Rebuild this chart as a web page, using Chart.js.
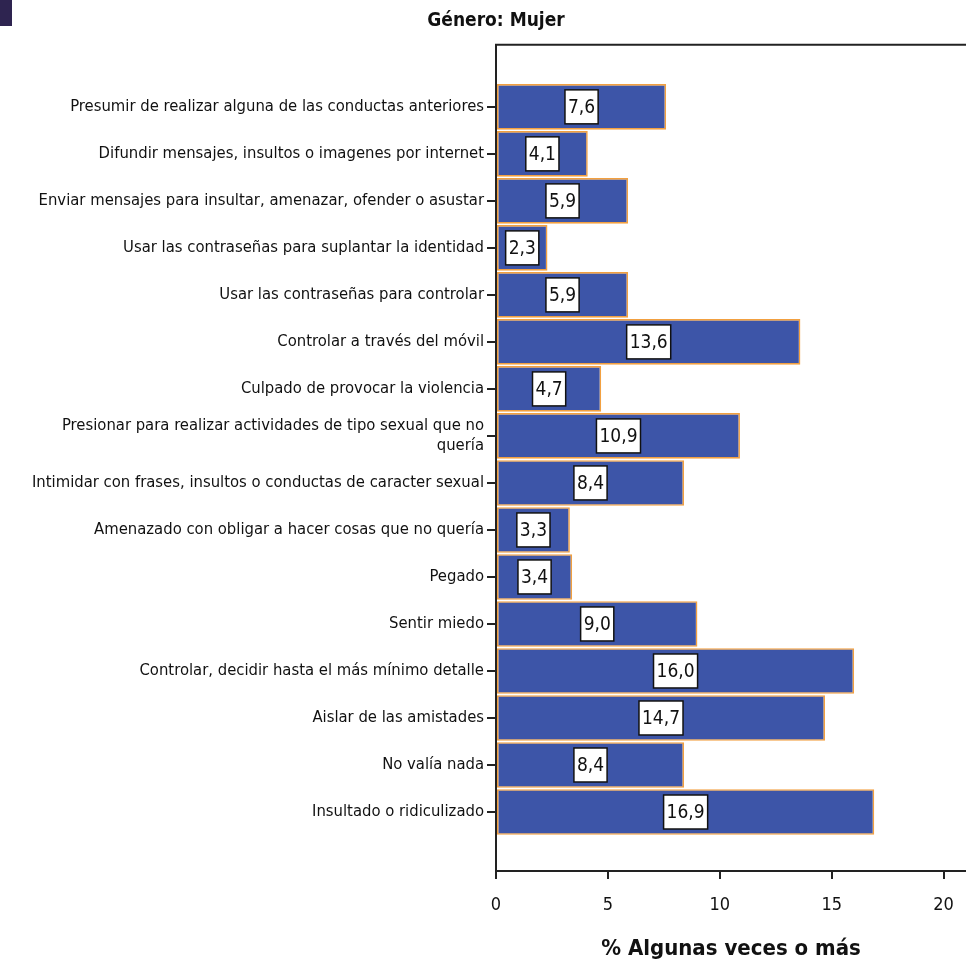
<!DOCTYPE html>
<html>
<head>
<meta charset="utf-8">
<script src="https://cdn.jsdelivr.net/npm/chart.js@4.4.1/dist/chart.umd.min.js"></script>
<style>
  html, body { margin: 0; padding: 0; background: #fff; }
  #wrap { width: 966px; height: 968px; position: relative; }
</style>
</head>
<body>
<div id="wrap"><canvas id="c"></canvas></div>
<script>
const chartTitle = 'Género: Mujer';
const xAxisTitle = '% Algunas veces o más';
const categories = [
  'Presumir de realizar alguna de las conductas anteriores',
  'Difundir mensajes, insultos o imagenes por internet',
  'Enviar mensajes para insultar, amenazar, ofender o asustar',
  'Usar las contraseñas para suplantar la identidad',
  'Usar las contraseñas para controlar',
  'Controlar a través del móvil',
  'Culpado de provocar la violencia',
  ['Presionar para realizar actividades de tipo sexual que no', 'quería'],
  'Intimidar con frases, insultos o conductas de caracter sexual',
  'Amenazado con obligar a hacer cosas que no quería',
  'Pegado',
  'Sentir miedo',
  'Controlar, decidir hasta el más mínimo detalle',
  'Aislar de las amistades',
  'No valía nada',
  'Insultado o ridiculizado'
];
const values = [7.6, 4.1, 5.9, 2.3, 5.9, 13.6, 4.7, 10.9, 8.4, 3.3, 3.4, 9.0, 16.0, 14.7, 8.4, 16.9];
const xTicks = [0, 5, 10, 15, 20];

const FONT = '"DejaVu Sans Condensed", "Liberation Sans Narrow", "Arial Narrow", sans-serif';
Chart.defaults.font.family = FONT;
Chart.defaults.color = '#111';

const decor = {
  id: 'decor',
  beforeDraw(chart) {
    const ctx = chart.ctx;
    ctx.save();
    ctx.fillStyle = '#2E2450';
    ctx.fillRect(0, 0, 12, 26);
    ctx.restore();
  },
  afterDraw(chart) {
    const ctx = chart.ctx, a = chart.chartArea;
    ctx.save();
    ctx.strokeStyle = '#222';
    ctx.lineWidth = 2;
    ctx.beginPath();
    ctx.moveTo(a.left - 1, a.top);
    ctx.lineTo(a.right, a.top);
    ctx.stroke();
    ctx.restore();
  },
  afterDatasetsDraw(chart) {
    const ctx = chart.ctx;
    const meta = chart.getDatasetMeta(0);
    ctx.save();
    ctx.font = '19px ' + FONT;
    ctx.textAlign = 'center';
    ctx.textBaseline = 'middle';
    meta.data.forEach((bar, i) => {
      const txt = values[i].toFixed(1).replace('.', ',');
      const cx = (bar.base + bar.x) / 2;
      const cy = bar.y;
      const w = ctx.measureText(txt).width + 6;
      const h = 34;
      ctx.fillStyle = '#fff';
      ctx.fillRect(cx - w / 2, cy - h / 2, w, h);
      ctx.strokeStyle = '#111';
      ctx.lineWidth = 1.5;
      ctx.strokeRect(cx - w / 2, cy - h / 2, w, h);
      ctx.fillStyle = '#111';
      ctx.fillText(txt, cx, cy + 1);
    });
    ctx.restore();
  }
};

new Chart(document.getElementById('c'), {
  type: 'bar',
  data: {
    datasets: [{
      data: values.map((v, i) => ({ x: v, y: i })),
      backgroundColor: '#3D55A8',
      borderColor: '#F2A040',
      borderWidth: 1.6,
      borderSkipped: false,
      barPercentage: 0.97,
      categoryPercentage: 1
    }]
  },
  options: {
    indexAxis: 'y',
    responsive: true,
    maintainAspectRatio: false,
    animation: false,
    layout: { padding: { left: 26, right: 0, top: 0, bottom: 0 } },
    plugins: {
      legend: { display: false },
      tooltip: { enabled: false },
      title: {
        display: true,
        text: chartTitle,
        color: '#111',
        font: { size: 19, weight: 'bold' },
        padding: { top: 10, bottom: 12 }
      }
    },
    scales: {
      y: {
        type: 'linear',
        reverse: true,
        offset: false,
        min: -1.32,
        max: 16.255,
        afterFit(s) { s.width = 470; s.paddingTop = 0; s.paddingBottom = 0; },
        afterBuildTicks(s) { s.ticks = categories.map((_, i) => ({ value: i })); },
        ticks: {
          autoSkip: false,
          padding: 3,
          color: '#111',
          font: { size: 16.5 },
          callback: (v) => categories[v]
        },
        grid: { offset: false, drawOnChartArea: false, drawTicks: true, tickLength: 9, color: '#222', lineWidth: 2 },
        border: { color: '#222', width: 2 }
      },
      x: {
        type: 'linear',
        min: 0,
        max: 21,
        offset: false,
        afterFit(s) { s.height = 97; s.paddingLeft = 0; s.paddingRight = 0; },
        afterBuildTicks(s) { s.ticks = xTicks.map(v => ({ value: v })); },
        ticks: { padding: 16, color: '#111', font: { size: 18 } },
        grid: { offset: false, drawOnChartArea: false, drawTicks: true, tickLength: 8, color: '#222', lineWidth: 2 },
        border: { color: '#222', width: 2 },
        title: {
          display: true,
          text: xAxisTitle,
          color: '#111',
          font: { size: 22, weight: 'bold' },
          padding: { top: 0, bottom: 6 }
        }
      }
    }
  },
  plugins: [decor]
});
</script>
</body>
</html>
